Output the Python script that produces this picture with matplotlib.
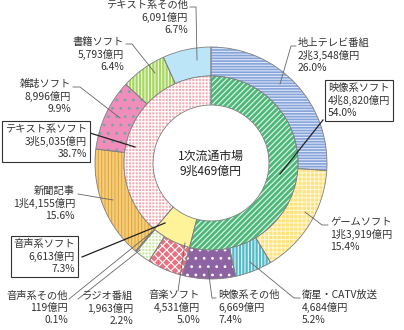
import matplotlib.pyplot as plt

plt.rcParams['font.family'] = ['Noto Sans CJK JP', 'DejaVu Sans']
plt.rcParams['hatch.linewidth'] = 0.8

# データ (億円)
outer_names = ['地上テレビ番組', 'ゲームソフト', '衛星・CATV放送', '映像系その他',
               '音楽ソフト', 'ラジオ番組', '音声系その他',
               '新聞記事', '雑誌ソフト', '書籍ソフト', 'テキスト系その他']
outer_vals = [23548, 13919, 4684, 6669, 4531, 1963, 119, 14155, 8996, 5793, 6091]
outer_amount = ['2兆3,548億円', '1兆3,919億円', '4,684億円', '6,669億円',
                '4,531億円', '1,963億円', '119億円',
                '1兆4,155億円', '8,996億円', '5,793億円', '6,091億円']
outer_pct = ['26.0%', '15.4%', '5.2%', '7.4%', '5.0%', '2.2%', '0.1%',
             '15.6%', '9.9%', '6.4%', '6.7%']

inner_names = ['映像系ソフト', '音声系ソフト', 'テキスト系ソフト']
inner_vals = [48820, 6613, 35035]
inner_amount = ['4兆8,820億円', '6,613億円', '3兆5,035億円']
inner_pct = ['54.0%', '7.3%', '38.7%']

total_label = '1次流通市場\n9兆469億円'

# 色と模様
outer_face = ['#86A3DA', '#FFE27A', '#52BAC8', '#8E63A3', '#E8717F', '#CDE8A4',
              '#F6C9D6', '#F5CF78', '#F08DBB', '#A6D75E', '#BDE5F8']
outer_hatchc = ['#DCE6F7', '#FFF7D2', '#E6F6F8', '#FFFFFF', '#FFFFFF', '#FFFFFF',
                '#FFFFFF', '#E3A446', '#6FA8A8', '#F2FAE6', '#BDE5F8']
outer_hatch = ['------', '++++', '|||||', '..', 'xxxx', '+++++',
               '', '|||||', '..', '|||||', '']
inner_face = ['#4CB87A', '#FFF39A', '#F5AEB6']
inner_hatchc = ['#E8F6EC', '#FFF39A', '#FFFFFF']
inner_hatch = ['//////', '', '+++++']

fig = plt.figure(figsize=(4.04, 3.30), dpi=100)
ax = fig.add_axes([0, 0, 1, 1])

cx, cy = 211, 163
R1, R2, R3 = 116, 87, 58


def ring(vals, radius, width, faces, hcols, hatches):
    w, _ = ax.pie(vals, radius=radius, center=(cx, cy), startangle=-90,
                  counterclock=True, colors=faces, hatch=hatches,
                  wedgeprops=dict(width=width, linewidth=0), frame=True)
    for p, hc in zip(w, hcols):
        p.set_edgecolor(hc)
        p.set_linewidth(0)
    ax.pie(vals, radius=radius, center=(cx, cy), startangle=-90,
           counterclock=True, colors=['none'] * len(vals),
           wedgeprops=dict(width=width, linewidth=0.6, edgecolor='#808080',
                           fill=False), frame=True)


ring(outer_vals, R1, R1 - R2, outer_face, outer_hatchc, outer_hatch)
ring(inner_vals, R2, R2 - R3, inner_face, inner_hatchc, inner_hatch)
ax.set_xlim(0, 404)
ax.set_ylim(330, 0)
ax.set_aspect('equal')
ax.axis('off')

ax.text(cx, cy + 1, total_label, ha='center', va='center', fontsize=8.6,
        linespacing=1.2, color='#222222')

fs = 7.4
ls = 1.25


def label(i, x, y, ha, line, names, amount, pct, box=False):
    s = names[i] + '\n' + amount[i] + '\n' + pct[i]
    kw = dict(ha=ha, va='top', fontsize=fs, linespacing=ls, color='#333333')
    if box:
        kw['bbox'] = dict(boxstyle='square,pad=0.28', fc='white',
                          ec='#333333', lw=0.8)
    ax.text(x, y, s, **kw)
    xs = [p[0] for p in line]
    ys = [p[1] for p in line]
    ax.plot(xs, ys, color='#222222' if box else '#666666',
            lw=0.9 if box else 0.6)


# 外側ラベル
label(10, 188, 0, 'right', [(190, 7), (196, 7), (197, 60)],
      outer_names, outer_amount, outer_pct)
label(9, 124, 37, 'right', [(126, 44), (132, 44), (155, 73)],
      outer_names, outer_amount, outer_pct)
label(0, 298, 38, 'left', [(296, 46), (291, 46), (280, 84)],
      outer_names, outer_amount, outer_pct)
label(1, 330, 217, 'left', [(328, 225), (322, 225), (305, 212)],
      outer_names, outer_amount, outer_pct)
label(2, 302, 290, 'left', [(300, 298), (294, 298), (250, 262)],
      outer_names, outer_amount, outer_pct)
label(3, 218, 290, 'left', [(216, 298), (212, 298), (208, 268)],
      outer_names, outer_amount, outer_pct)
label(4, 200, 290, 'right', [(178, 291), (185, 243)],
      outer_names, outer_amount, outer_pct)
label(5, 133, 291, 'right', [(78, 299), (140, 250)],
      outer_names, outer_amount, outer_pct)
label(6, 68, 291, 'right', [(69, 299), (152, 232)],
      outer_names, outer_amount, outer_pct)
label(7, 75, 186, 'right', [(78, 194), (113, 200)],
      outer_names, outer_amount, outer_pct)
label(8, 71, 79, 'right', [(73, 87), (80, 87), (120, 118)],
      outer_names, outer_amount, outer_pct)

# 内側ラベル (枠付き)
label(0, 328, 83, 'left', [(323, 120), (280, 174)],
      inner_names, inner_amount, inner_pct, box=True)
label(2, 87, 124, 'right', [(90, 133), (135, 147)],
      inner_names, inner_amount, inner_pct, box=True)
label(1, 75, 239, 'right', [(82, 257), (165, 223)],
      inner_names, inner_amount, inner_pct, box=True)

fig.savefig('out.png', dpi=100)
